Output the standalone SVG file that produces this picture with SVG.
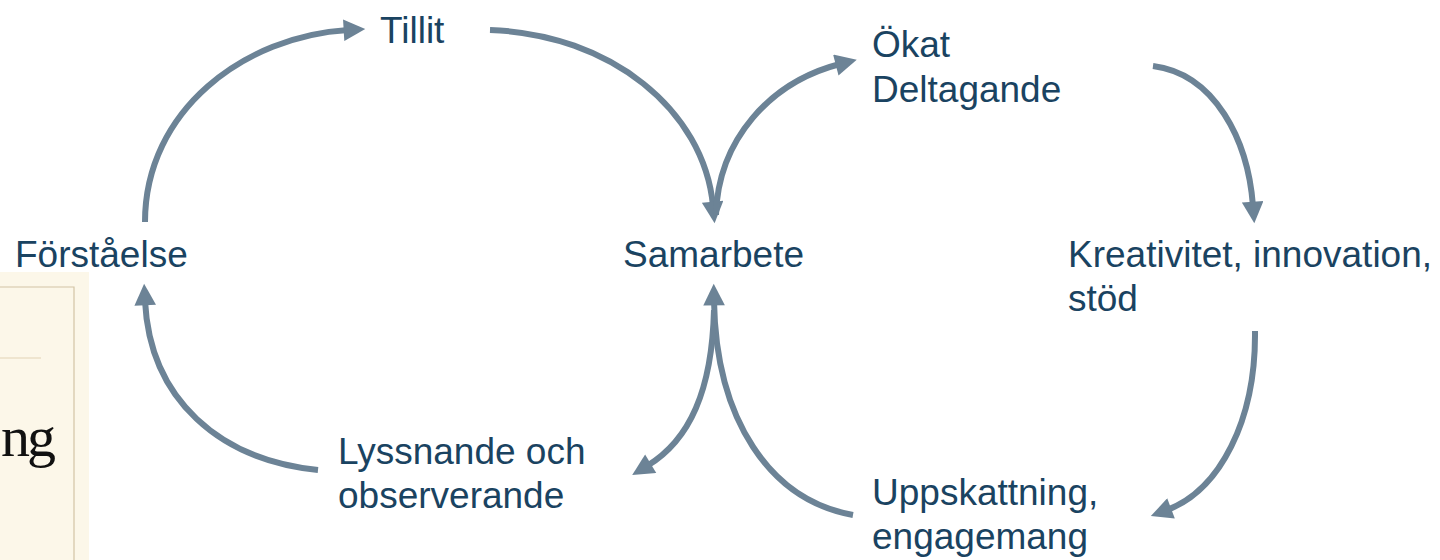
<svg xmlns="http://www.w3.org/2000/svg" width="1440" height="560" viewBox="0 0 1440 560">
<style>
.lbl{font-family:"Liberation Sans",Arial,sans-serif;font-size:37px;fill:#1A4361}
.arr{fill:none;stroke:#6C8396;stroke-width:6;marker-end:url(#ah)}
</style>
<defs>
<marker id="ah" viewBox="0 0 10 10" refX="2" refY="5" markerWidth="4" markerHeight="3.6" orient="auto" markerUnits="strokeWidth">
<path d="M0,0 L10,5 L0,10 z" fill="#6C8396"/>
</marker>
</defs>
<rect width="1440" height="560" fill="#ffffff"/>
<g id="bg-card">
<rect x="0" y="272" width="89" height="288" fill="#FCF7E9"/>
<path d="M0,287 H74 V560" fill="none" stroke="#D2C4A6" stroke-width="1.2"/>
<line x1="0" y1="358" x2="41" y2="358" stroke="#E2D3B5" stroke-width="1"/>
<text x="1" y="456" font-family="Liberation Serif,serif" font-size="58" letter-spacing="-3" fill="#111111">ng</text>
</g>
<g id="connectors">
<path class="arr" d="M145,222 C145,110 245,36 348,30"/>
<path class="arr" d="M490,30 C610,34 704,110 713,206"/>
<path class="arr" d="M716,215 C718,140 770,82 840,64"/>
<path class="arr" d="M1153,66 C1215,74 1248,140 1253,206"/>
<path class="arr" d="M1255,331 C1256,420 1220,490 1167,510"/>
<path class="arr" d="M853,515 C770,500 716,420 714,301"/>
<path class="arr" d="M714,310 C712,390 690,440 647,466"/>
<path class="arr" d="M318,470 C220,460 150,400 145,301"/>
</g>
<g id="node-tillit"><text class="lbl" x="380" y="43">Tillit</text></g>
<g id="node-forstaelse"><text class="lbl" x="15" y="267">Förståelse</text></g>
<g id="node-samarbete"><text class="lbl" x="623" y="267">Samarbete</text></g>
<g id="node-okat"><text class="lbl" x="872" y="57">Ökat</text><text class="lbl" x="872" y="102">Deltagande</text></g>
<g id="node-kreativitet"><text class="lbl" x="1068" y="267">Kreativitet, innovation,</text><text class="lbl" x="1068" y="311">stöd</text></g>
<g id="node-lyssnande"><text class="lbl" x="338" y="464">Lyssnande och</text><text class="lbl" x="338" y="508">observerande</text></g>
<g id="node-uppskattning"><text class="lbl" x="872" y="505">Uppskattning,</text><text class="lbl" x="872" y="549">engagemang</text></g>
</svg>
